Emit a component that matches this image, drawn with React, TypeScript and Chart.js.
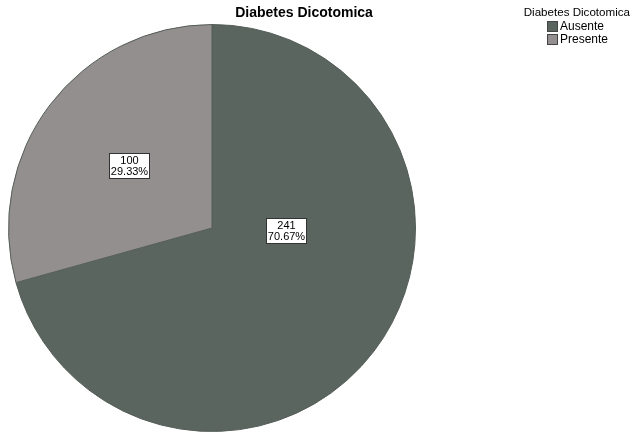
import React, { useEffect, useRef } from "react";
import { Chart, registerables } from "chart.js";

Chart.register(...registerables);

const chartTitle = "Diabetes Dicotomica";
const legendTitle = "Diabetes Dicotomica";
const categories = ["Ausente", "Presente"];
const counts = [241, 100];
const percentLabels = ["70.67%", "29.33%"];
const sliceColors = ["#5b655f", "#938f8e"];

const FONT = "'Liberation Sans', Arial, sans-serif";
// label placement within each slice: fraction of slice angle, fraction of radius
const labelPlacement = [
  { angleFrac: 0.36, radiusFrac: 0.365 },
  { angleFrac: 0.5, radiusFrac: 0.51 },
];

const overlayPlugin = {
  id: "overlay",
  afterDatasetsDraw(chart: any) {
    const ctx = chart.ctx as CanvasRenderingContext2D;
    const meta = chart.getDatasetMeta(0);
    ctx.save();
    // slice labels
    meta.data.forEach((arc: any, i: number) => {
      const p = arc.getProps(["x", "y", "startAngle", "endAngle", "outerRadius"], true);
      const pl = labelPlacement[i];
      const ang = p.startAngle + (p.endAngle - p.startAngle) * pl.angleFrac;
      const r = p.outerRadius * pl.radiusFrac;
      const cx = p.x + Math.cos(ang) * r;
      const cy = p.y + Math.sin(ang) * r;
      ctx.font = `11px ${FONT}`;
      const l1 = String(counts[i]);
      const l2 = percentLabels[i];
      const w = Math.round(Math.max(ctx.measureText(l1).width, ctx.measureText(l2).width) + 3);
      const h = 25;
      const bx = Math.round(cx - w / 2) + 0.5;
      const by = Math.round(cy - h / 2) + 0.5;
      ctx.fillStyle = "#ffffff";
      ctx.fillRect(bx, by, w, h);
      ctx.strokeStyle = "#333333";
      ctx.lineWidth = 1;
      ctx.strokeRect(bx, by, w, h);
      ctx.fillStyle = "#000000";
      ctx.textAlign = "center";
      ctx.textBaseline = "middle";
      ctx.fillText(l1, bx + w / 2, by + 7);
      ctx.fillText(l2, bx + w / 2, by + 18);
    });
    // title
    ctx.fillStyle = "#000000";
    ctx.font = `bold 14px ${FONT}`;
    ctx.textAlign = "center";
    ctx.textBaseline = "middle";
    ctx.fillText(chartTitle, 304, 13);
    // legend
    ctx.font = `11.6px ${FONT}`;
    ctx.textAlign = "right";
    ctx.fillText(legendTitle, 630, 13);
    ctx.font = `12px ${FONT}`;
    ctx.textAlign = "left";
    categories.forEach((c, i) => {
      const y = 21 + i * 13;
      ctx.fillStyle = sliceColors[i];
      ctx.fillRect(547, y, 11, 11);
      ctx.strokeStyle = "#444444";
      ctx.strokeRect(547.5, y + 0.5, 10, 10);
      ctx.fillStyle = "#000000";
      ctx.fillText(c, 560, y + 6);
    });
    ctx.restore();
  },
};

export default function App() {
  const ref = useRef<HTMLCanvasElement>(null);
  useEffect(() => {
    document.body.style.margin = "0";
    const chart = new Chart(ref.current!, {
      type: "pie",
      data: {
        labels: categories,
        datasets: [
          {
            data: counts,
            backgroundColor: sliceColors,
            borderColor: "#555e59",
            borderWidth: 1,
          },
        ],
      },
      options: {
        responsive: false,
        animation: false,
        layout: { padding: { left: 8, top: 24, right: 215, bottom: 2 } },
        plugins: {
          legend: { display: false },
          title: { display: false },
          tooltip: { enabled: false },
        },
      },
      plugins: [overlayPlugin],
    });
    return () => chart.destroy();
  }, []);
  return (
    <div style={{ position: "absolute", left: 0, top: 0, width: 631, height: 434, background: "#fff" }}>
      <canvas ref={ref} width={631} height={434} />
    </div>
  );
}
